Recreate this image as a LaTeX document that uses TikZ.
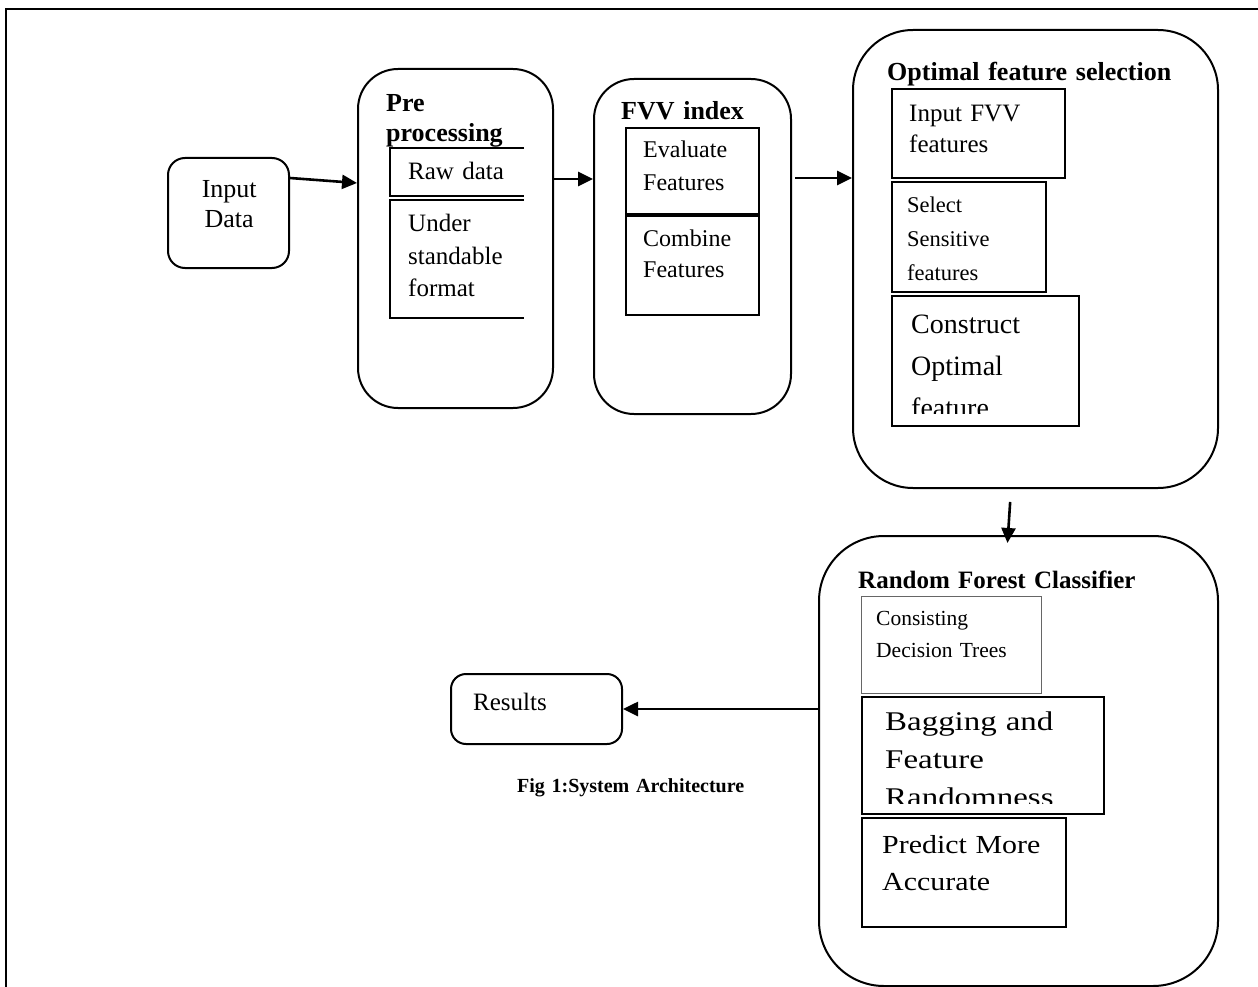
\documentclass[tikz,border=0pt]{standalone}
\usepackage{fontspec}
\setmainfont{Liberation Serif}
\newfontfamily\widefont[FakeStretch=1.15]{Liberation Serif}
\newfontfamily\widerfont[FakeStretch=1.22]{Liberation Serif}
\usepackage{tikz}
\usetikzlibrary{positioning, arrows.meta}
\newcommand{\fsz}[2]{\fontsize{#1}{#2}\selectfont}

\begin{document}
\begin{tikzpicture}[x=1pt, y=-1pt, >={Triangle[length=15pt,width=14pt]},
    stage/.style={draw, line width=2pt, anchor=north west, inner sep=0pt},
    item/.style={draw, line width=1.6pt, anchor=north west, inner sep=0pt},
    lbl/.style={anchor=base west, inner sep=0pt, align=left, text width=300pt},
    flow/.style={->, line width=2.6pt}]
    \useasboundingbox (0,0) rectangle (1258,987);
    \draw[line width=2.5pt] (6,987) -- (6,9) -- (1258,9);

    % main stages
    \node[stage, minimum width=121pt, minimum height=110pt, rounded corners=17pt] (input) at (167,157) {};
    \node[stage, minimum width=195pt, minimum height=339pt, rounded corners=40pt] (prep) at (357,68) {};
    \node[stage, minimum width=197pt, minimum height=335pt, rounded corners=40pt] (fvv) at (593,78) {};
    \node[stage, minimum width=365pt, minimum height=458pt, rounded corners=60pt] (optsel) at (852,29) {};
    \node[stage, minimum width=399pt, minimum height=450pt, rounded corners=65pt] (rfc) at (818,535) {};
    \node[stage, minimum width=171pt, minimum height=70pt, rounded corners=15pt] (results) at (450,673) {};

    \node[lbl, align=center, text width=120pt, font=\fsz{26}{30}] (inputtxt) at (169,197) {Input\\Data};
    \node[lbl, font=\fsz{25}{30}] (resultstxt) at (473,710) {Results};

    % pre processing
    \node[lbl, font=\fsz{26}{30}\bfseries] (preptxt) at (386,112) {Pre\\processing};
    \draw[line width=1.6pt] (524,148) -- (390,148) -- (390,196) -- (524,196);
    \draw[line width=1.6pt] (524,200) -- (390,200) -- (390,318) -- (524,318);
    \node[lbl, font=\fsz{25}{32}] (rawtxt) at (408,180) {Raw data};
    \node[lbl, font=\fsz{25}{32.5}] (formtxt) at (408,232) {Under\\standable\\format};

    % FVV index
    \node[lbl, font=\fsz{26}{30}\bfseries] (fvvtxt) at (621,120) {FVV index};
    \node[item, minimum width=133pt, minimum height=86pt] (evalbox) at (625,127) {};
    \node[item, minimum width=133pt, minimum height=99pt] (combbox) at (625,215) {};
    \node[lbl, font=\fsz{24}{33}] (evaltxt) at (643,158) {Evaluate\\Features};
    \node[lbl, font=\fsz{24}{31}] (combtxt) at (643,247) {Combine\\Features};

    % optimal feature selection
    \node[lbl, font=\fsz{26}{30}\bfseries] (opttxt) at (887,81) {Optimal feature selection};
    \node[item, minimum width=173pt, minimum height=89pt] (inbox) at (891,88) {};
    \node[item, minimum width=154pt, minimum height=110pt] (selbox) at (891,181) {};
    \node[item, minimum width=187pt, minimum height=130pt] (consbox) at (891,295) {};
    \node[lbl, font=\fsz{25}{31}] (intxt) at (909,122) {Input FVV\\features};
    \node[lbl, font=\fsz{22.5}{33.5}] (seltxt) at (907,213) {Select\\Sensitive\\features};
    \begin{scope}
      \clip (891,295) rectangle (1078,413);
      \node[lbl, font=\fsz{28}{42}] (constxt) at (911,333) {Construct\\Optimal\\feature};
    \end{scope}

    % random forest classifier
    \node[lbl, font=\fsz{25}{30}\bfseries] (rfctxt) at (858,588) {Random Forest Classifier};
    \node[item, draw=black!60, line width=1pt, minimum width=180pt, minimum height=97pt] (treebox) at (861,596) {};
    \node[item, line width=2pt, minimum width=242pt, minimum height=117pt] (bagbox) at (861,696) {};
    \node[item, line width=2pt, minimum width=204pt, minimum height=109pt] (predbox) at (861,817) {};
    \node[lbl, font=\fsz{21.5}{32}] (treetxt) at (876,625) {Consisting\\Decision Trees};
    \begin{scope}
      \clip (861,696) rectangle (1103,803);
      \node[lbl, font=\widerfont\fsz{27}{38}] (bagtxt) at (885,730) {Bagging and\\Feature\\Randomness};
    \end{scope}
    \node[lbl, font=\widefont\fsz{26}{37}] (predtxt) at (882,853) {Predict More\\Accurate};

    \node[lbl, font=\fsz{20}{24}\bfseries] (figtxt) at (517,792) {Fig 1:System Architecture};

    % connectors
    \draw[flow] ([yshift=35pt]input.east) -- ([yshift=55.5pt]prep.west);
    \draw[flow] ([yshift=59.5pt]prep.east) -- ([yshift=59.5pt]prep.east -| fvv.west);
    \draw[flow] ([xshift=3pt, yshift=68.5pt]fvv.east) -- ([yshift=68.5pt]fvv.east -| optsel.west);
    \draw[flow, shorten <=13pt, shorten >=-8pt] ([xshift=-24.5pt]optsel.south) -- ([xshift=-10.5pt]rfc.north);
    \draw[flow] ([yshift=52pt]rfc.west) -- (results.east);
\end{tikzpicture}
\end{document}
